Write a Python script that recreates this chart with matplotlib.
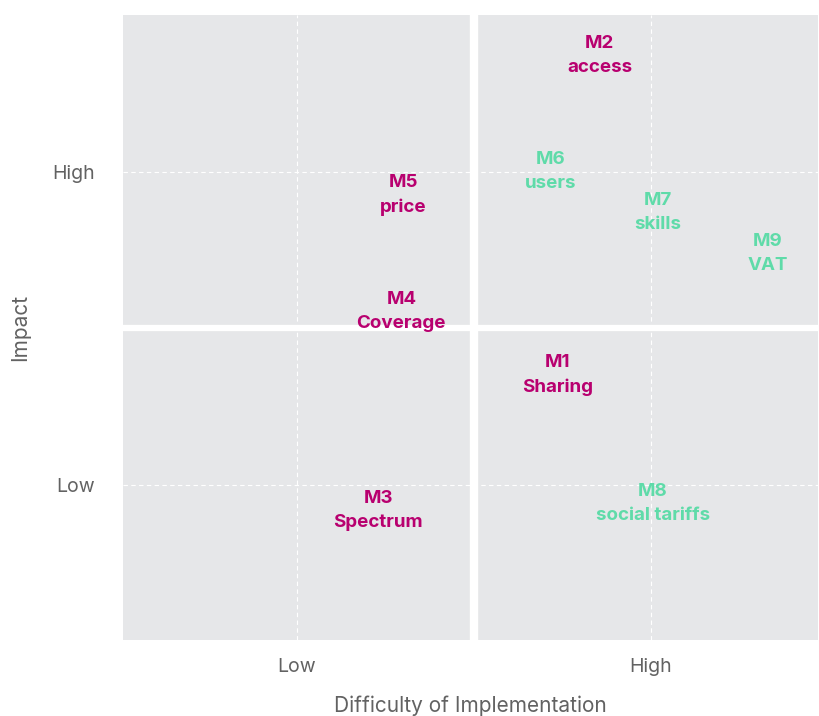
import matplotlib.pyplot as plt

plt.rcParams['font.family'] = ['Inter', 'DejaVu Sans']

# measures: code, short name, difficulty (x), impact (y), group
codes = ["M1", "M2", "M3", "M4", "M5", "M6", "M7", "M8", "M9"]
names = ["Sharing", "access", "Spectrum", "Coverage", "price", "users", "skills", "social tariffs", "VAT"]
difficulty = [2.47, 2.71, 1.46, 1.59, 1.60, 2.435, 3.04, 3.01, 3.66]
impact = [1.70, 3.74, 0.84, 2.11, 2.85, 3.00, 2.74, 0.88, 2.48]
group = ["a", "a", "a", "a", "a", "b", "b", "b", "b"]

tick_pos = [1, 3]
tick_labels = ["Low", "High"]

colors = {"a": "#b8006f", "b": "#5fdba9"}
gray_txt = "#626262"

fig = plt.figure(figsize=(8.19, 7.16), dpi=100)
ax = fig.add_axes([0.150, 0.106, 0.849, 0.873])
ax.set_facecolor("#e6e7e9")
ax.set_xlim(0.017, 3.944)
ax.set_ylim(0.01, 4.0)

ax.set_xticks(tick_pos)
ax.set_xticklabels(tick_labels)
ax.set_yticks(tick_pos)
ax.set_yticklabels(tick_labels)
ax.tick_params(length=0, labelsize=14, labelcolor=gray_txt)
ax.tick_params(axis='x', pad=13)
ax.tick_params(axis='y', pad=20)
ax.grid(color="white", linestyle=(0, (4, 3)), linewidth=0.8)
ax.set_axisbelow(True)

# white gaps between the quadrants
ax.axvline(2.0, color="white", linewidth=6)
ax.axhline(2.0, color="white", linewidth=4.5)

for s in ax.spines.values():
    s.set_visible(False)

for c, n, x, y, g in zip(codes, names, difficulty, impact, group):
    ax.text(x, y, f"{c}\n{n}", ha="center", va="center", color=colors[g],
            fontsize=13.5, fontweight="bold", linespacing=1.55, zorder=5)

ax.set_xlabel("Difficulty of Implementation", fontsize=15, color=gray_txt, labelpad=14)
ax.set_ylabel("Impact", fontsize=15, color=gray_txt, labelpad=16)

fig.savefig("out.png", dpi=100)
